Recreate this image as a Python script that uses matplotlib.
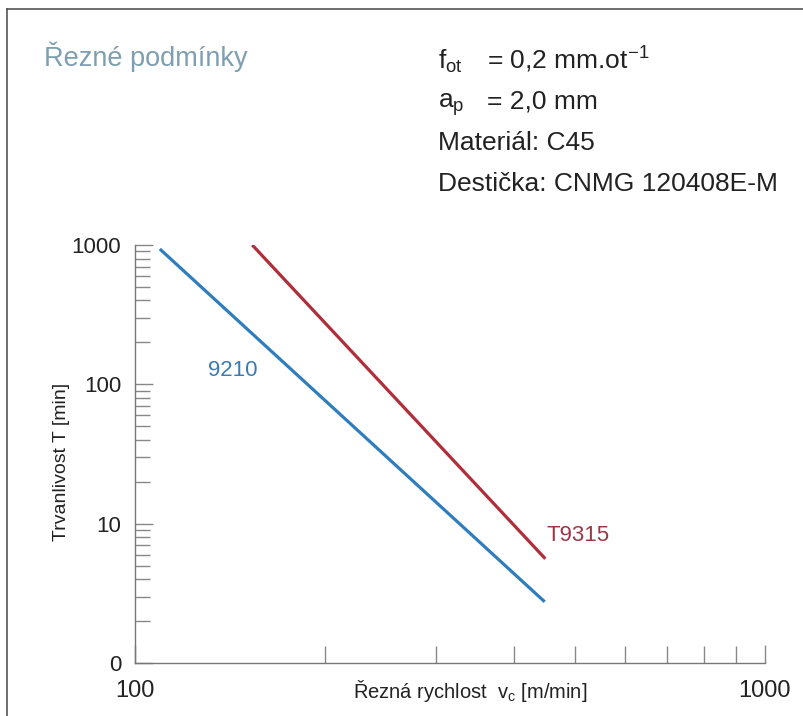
import matplotlib
matplotlib.use("Agg")
import matplotlib.pyplot as plt
from matplotlib.lines import Line2D
from matplotlib.ticker import FixedLocator, FixedFormatter, NullFormatter

plt.rcParams['font.family'] = ['Liberation Sans', 'DejaVu Sans']
plt.rcParams['mathtext.fontset'] = 'custom'
plt.rcParams['mathtext.rm'] = 'Liberation Sans'
plt.rcParams['mathtext.it'] = 'Liberation Sans'

# Data (cutting speed vc [m/min], tool life T [min])
vc_9210 = [109.5, 447]
T_9210 = [936, 2.75]
vc_T9315 = [153.5, 448]
T_T9315 = [1000, 5.6]

y_ticks = [1, 10, 100, 1000]
y_ticklabels = ["0", "10", "100", "1000"]
x_ticks = [100, 1000]
x_ticklabels = ["100", "1000"]

W, H = 804, 716
fig = plt.figure(figsize=(W / 100, H / 100), dpi=100)
fig.patch.set_facecolor('white')

def fx(x):
    return x / W

def fy(y):
    return 1 - y / H

ax = fig.add_axes([fx(135), fy(663), fx(765) - fx(135), fy(245) - fy(663)])
ax.set_xscale('log')
ax.set_yscale('log')
ax.set_xlim(100, 1000)
ax.set_ylim(1, 1000)

blue = '#2f7dbd'
red = '#b02e3a'
ax.plot(vc_9210, T_9210, color=blue, lw=2.3, solid_capstyle='butt')
ax.plot(vc_T9315, T_T9315, color=red, lw=2.3, solid_capstyle='butt')

ax.text(143, 126, "9210", color='#3b7bb3', fontsize=16, ha='center', va='center')
ax.text(505, 8.2, "T9315", color='#9c3647', fontsize=16, ha='center', va='center')

for s in ['top', 'right']:
    ax.spines[s].set_visible(False)
for s in ['left', 'bottom']:
    ax.spines[s].set_color('#777777')
    ax.spines[s].set_linewidth(1.0)

ax.yaxis.set_major_locator(FixedLocator(y_ticks))
ax.yaxis.set_major_formatter(FixedFormatter(y_ticklabels))
ax.yaxis.set_minor_locator(FixedLocator([m * d for d in [1, 10, 100] for m in range(2, 10)]))
ax.yaxis.set_minor_formatter(NullFormatter())
ax.tick_params(axis='y', which='major', direction='in', length=13, width=1, color='#888888',
               labelsize=16, pad=10, labelcolor='#222222')
ax.tick_params(axis='y', which='minor', direction='in', length=11, width=1, color='#888888')

ax.xaxis.set_major_locator(FixedLocator(x_ticks))
ax.xaxis.set_major_formatter(FixedFormatter(x_ticklabels))
ax.xaxis.set_minor_locator(FixedLocator(list(range(200, 1000, 100))))
ax.xaxis.set_minor_formatter(NullFormatter())
ax.tick_params(axis='x', which='major', direction='in', length=13, width=1, color='#888888',
               labelsize=17, pad=12, labelcolor='#222222')
ax.tick_params(axis='x', which='minor', direction='in', length=12, width=1, color='#888888')

fig.text(fx(470), fy(691), r"Řezná rychlost  v$_\mathrm{c}$ [m/min]", fontsize=14.5,
         ha='center', va='center', color='#222222')
fig.text(fx(62), fy(462), "Trvanlivost T [min]", fontsize=14, rotation=90,
         ha='center', va='center', color='#222222')

fig.text(fx(44), fy(66), "Řezné podmínky", fontsize=19.5, color='#7d9fb1', ha='left', va='baseline')

tc = '#222222'
fs = 19
fig.text(fx(438), fy(69), r"f$_\mathrm{ot}$", fontsize=fs, color=tc, ha='left', va='baseline')
fig.text(fx(487), fy(69), r"= 0,2 mm.ot$^\mathrm{-1}$", fontsize=fs, color=tc, ha='left', va='baseline')
fig.text(fx(438), fy(108), r"a$_\mathrm{p}$", fontsize=fs, color=tc, ha='left', va='baseline')
fig.text(fx(487), fy(108), "= 2,0 mm", fontsize=fs, color=tc, ha='left', va='baseline')
fig.text(fx(438), fy(150), "Materiál: C45", fontsize=fs, color=tc, ha='left', va='baseline')
fig.text(fx(438), fy(191), "Destička: CNMG 120408E-M", fontsize=fs, color=tc, ha='left', va='baseline')

# frame lines (top and left)
fig.add_artist(Line2D([fx(7), 1.0], [fy(9), fy(9)], color='#555555', lw=1.2))
fig.add_artist(Line2D([fx(7), fx(7)], [fy(9), 0.0], color='#555555', lw=1.2))

fig.savefig("out.png", dpi=100)
